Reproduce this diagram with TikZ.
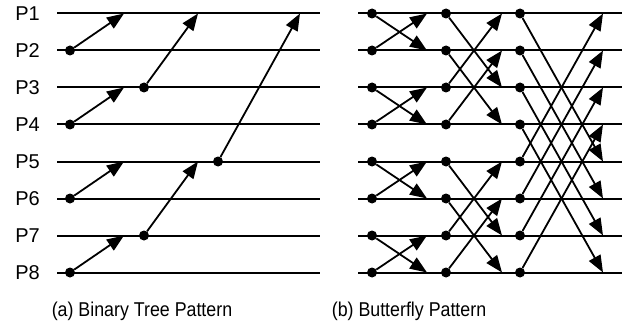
\documentclass[tikz,border=0pt]{standalone}
\usepackage{fontspec}
\setmainfont{Liberation Sans}
\usetikzlibrary{arrows.meta}
\begin{document}
\begin{tikzpicture}[x=1pt,y=-1pt,
  wire/.style={line width=2pt},
  link/.style={line width=1.8pt,-{Triangle[length=17pt,width=13pt]}},
  dot/.style={circle,fill=black,inner sep=0pt,minimum size=10pt},
  plabel/.style={anchor=east,inner sep=0pt,font=\fontsize{20}{24}\selectfont},
  caption/.style={inner sep=0pt,font=\fontsize{20}{24}\selectfont}]
\useasboundingbox (0,0) rectangle (626,326);

% processor labels and the two sets of time lines
\foreach \i in {1,...,8} {
  \pgfmathsetmacro\y{13.5+37*(\i-1)}
  \node[plabel] (p\i) at (40,\y) {P\i};
  \coordinate (la\i) at (57,\y);  \coordinate (lb\i) at (320,\y);
  \coordinate (ra\i) at (358,\y); \coordinate (rb\i) at (622,\y);
  \draw[wire] (la\i) -- (lb\i);
  \draw[wire] (ra\i) -- (rb\i);
}

% (a) binary tree: senders and receivers
\foreach \i/\j in {2/1,4/3,6/5,8/7} {
  \node[dot] (s1\i) at (70,13.5+37*\i-37) {};
  \coordinate (r1\j) at (124,13.5+37*\j-37);
  \draw[link] (s1\i) -- (r1\j);
}
\foreach \i/\j in {3/1,7/5} {
  \node[dot] (s2\i) at (144,13.5+37*\i-37) {};
  \coordinate (r2\j) at (198,13.5+37*\j-37);
  \draw[link] (s2\i) -- (r2\j);
}
\node[dot] (s35) at (218,161.5) {};
\coordinate (r31) at (300,13.5);
\draw[link] (s35) -- (r31);

% (b) butterfly: three exchange stages with distance 1, 2, 4
\foreach \s/\d/\xa/\xb in {1/1/372/427, 2/2/446/502, 3/4/520/603} {
  \foreach \i in {1,...,8} {
    \node[dot] (b\s-\i) at (\xa,13.5+37*\i-37) {};
  }
  \foreach \i in {1,...,8} {
    \pgfmathtruncatemacro\k{mod(floor((\i-1)/\d),2)==0 ? \i+\d : \i-\d}
    \coordinate (e\s-\i) at (\xb,13.5+37*\k-37);
    \draw[link] (b\s-\i) -- (e\s-\i);
  }
}

\node[caption] (capa) at (142,311) {\scalebox{0.89}[1]{(a) Binary Tree Pattern}};
\node[caption] (capb) at (409,311) {\scalebox{0.89}[1]{(b) Butterfly Pattern}};
\end{tikzpicture}
\end{document}
